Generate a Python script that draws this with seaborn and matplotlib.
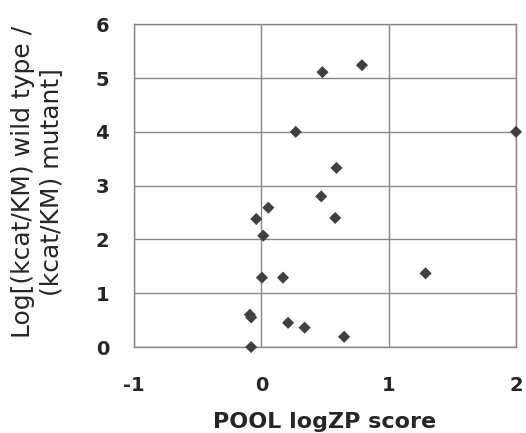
import numpy as np
import pandas as pd
import matplotlib
matplotlib.use('Agg')
import matplotlib.pyplot as plt
import seaborn as sns

# valori
logzp = [0.48, 0.79, 0.27, 2.0, 0.59, 0.47, 0.055, -0.04, 0.58, 0.015,
         1.29, 0.005, 0.17, -0.09, -0.08, 0.21, 0.34, 0.65, -0.08]
ratio = [5.11, 5.24, 4.0, 4.0, 3.33, 2.80, 2.59, 2.38, 2.40, 2.07,
         1.37, 1.29, 1.29, 0.60, 0.55, 0.45, 0.36, 0.19, 0.0]
xticks = [-1, 0, 1, 2]
yticks = [0, 1, 2, 3, 4, 5, 6]

df = pd.DataFrame({'x': logzp, 'y': ratio})

sns.set_style('white')
plt.rcParams['font.family'] = ['DejaVu Sans']

fig = plt.figure(figsize=(5.26, 4.33), dpi=100)
ax = fig.add_axes([0.2548, 0.1986, 0.7262, 0.7453])

sns.scatterplot(data=df, x='x', y='y', marker='D', s=38, color='#404040',
                edgecolor='none', ax=ax, zorder=3, clip_on=False)

ax.set_xlim(-1, 2)
ax.set_ylim(0, 6)
ax.set_xticks(xticks)
ax.set_yticks(yticks)
ax.set_xticklabels([str(t) for t in xticks], fontsize=14, fontweight='bold')
ax.set_yticklabels([str(t) for t in yticks], fontsize=14, fontweight='bold')
ax.tick_params(axis='y', length=0, pad=18)
ax.tick_params(axis='x', length=0, pad=21)

ax.grid(True, color='#868686', linewidth=1.0)
ax.set_axisbelow(True)
for sp in ax.spines.values():
    sp.set_color('#868686')
    sp.set_linewidth(1.0)

ax.set_xlabel('POOL logZP score', fontsize=16, fontweight='bold')
ax.xaxis.set_label_coords(0.5, -0.2)
ax.set_ylabel('Log[(kcat/KM) wild type /\n(kcat/KM) mutant]', fontsize=18,
              linespacing=1.2)
ax.yaxis.set_label_coords(-0.186, 0.512)

fig.savefig('out.png', dpi=100)
